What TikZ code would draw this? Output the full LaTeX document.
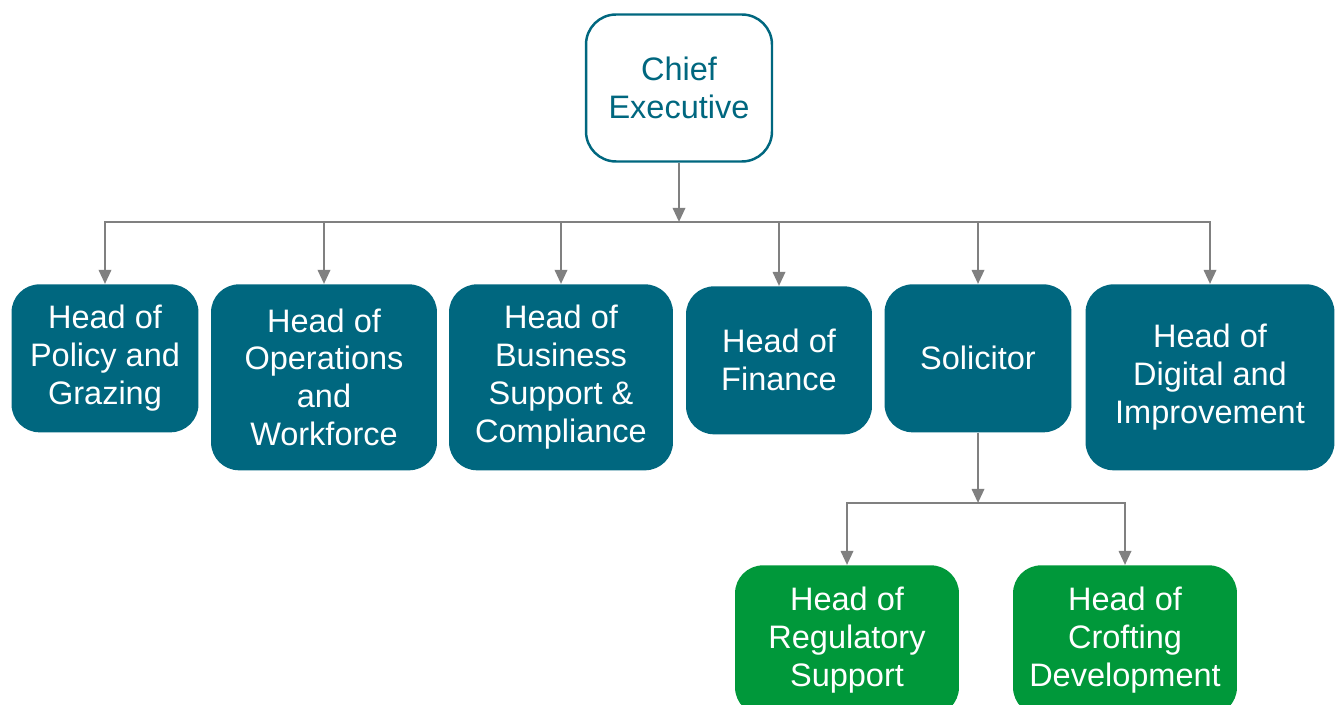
\documentclass[tikz,border=0pt]{standalone}
\usepackage{fontspec}
\setmainfont{Liberation Sans}
\usetikzlibrary{arrows.meta}
\definecolor{teal}{HTML}{00677F}
\definecolor{leaf}{HTML}{00983A}
\definecolor{wire}{HTML}{808080}
\tikzset{
  head/.style={rounded corners=.56cm, align=center, text=white, fill=teal, anchor=north,
    minimum height=2.96cm, inner sep=0pt},
  tall/.style={minimum height=3.72cm},
  sub/.style={head, fill=leaf, minimum height=3cm},
  link/.style={draw=wire, line width=1.4pt}
}
\begin{document}
\begin{tikzpicture}[x=.02cm, y=-.02cm, font=\fontsize{18.5}{21.6}\selectfont, >={Triangle[width=7pt,length=8pt]}]
			\useasboundingbox (0,0) rectangle (1335,705);
			\node[rounded corners=.6cm, draw=teal, line width=1.4pt, fill=white, text=teal, align=center,
				minimum width=3.72cm, minimum height=2.94cm] (ceo) at (679,88) {Chief\\Executive};
			\node[head, minimum width=3.74cm] (pol) at (105,284) {Head of\\Policy and\\Grazing};
			\node[head, tall, minimum width=4.52cm] (ops) at (324,284) {Head of\\Operations\\and\\Workforce};
			\node[head, tall, minimum width=4.48cm] (bus) at (561,284) {Head of\\Business\\Support \&\\Compliance};
			\node[head, minimum width=3.72cm] (fin) at (779,286) {Head of\\Finance};
			\node[head, minimum width=3.74cm] (sol) at (978,284) {Solicitor};
			\node[head, tall, minimum width=4.98cm] (dig) at (1210,284) {Head of\\Digital and\\Improvement};
			\node[sub, minimum width=4.48cm] (reg) at (847,565) {Head of\\Regulatory\\Support};
			\node[sub, minimum width=4.48cm] (cro) at (1125,565) {Head of\\Crofting\\Development};
			\coordinate (bar) at (679,222);
			\coordinate (fork) at (978,503);
			\draw[link,->] (ceo.south) -- (bar);
			\draw[link, line cap=rect] (bar -| pol.north) -- (bar -| dig.north);
			\foreach \n in {pol,ops,bus,fin,sol,dig}\draw[link,->](bar -| \n.north)--(\n.north);
			\draw[link,->] (sol.south) -- (fork);
			\draw[link, line cap=rect] (fork -| reg.north) -- (fork -| cro.north);
			\foreach \n in {reg,cro}\draw[link,->](fork -| \n.north)--(\n.north);
	\end{tikzpicture}
\end{document}
